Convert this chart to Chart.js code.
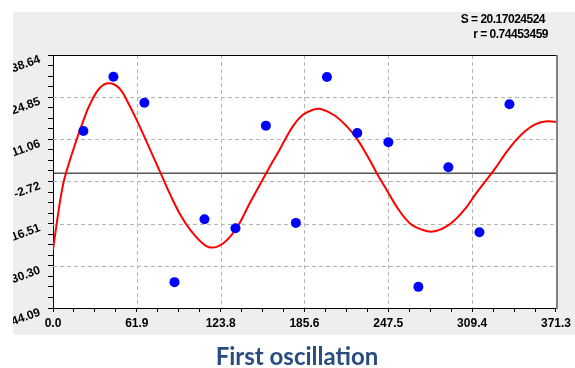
<!DOCTYPE html>
<html>
<head>
<meta charset="utf-8">
<title>First oscillation</title>
<script src="https://cdn.jsdelivr.net/npm/chart.js@4.4.0/dist/chart.umd.min.js"></script>
<style>
html, body { margin: 0; padding: 0; background: #fff; }
#wrap { width: 575px; height: 368px; position: relative; }
</style>
</head>
<body>
<div id="wrap"><canvas id="chart" width="575" height="368"></canvas></div>
<script>
// ==========================
// Data
// ==========================
const obsX = [22.44, 44.59, 67.46, 89.68, 111.83, 134.71, 157.14, 179.29, 202.24, 224.61, 247.55, 269.70, 291.85, 314.80, 336.95];
const obsY = [13.80, 31.55, 23.05, -35.64, -15.05, -17.99, 15.54, -16.26, 31.45, 13.15, 10.11, -37.18, 1.94, -19.30, 22.53];

const fitX = [0, 2.70, 5.12, 7.67, 10.23, 17.32, 22.15, 27.04, 34.35, 41.15, 48.97, 56.28, 62.35, 68.49,
              79.45, 86.98, 94.29, 101.60, 108.91, 116.44, 125.72, 135.44, 145.24, 157.37, 167.16, 176.88,
              184.19, 191.50, 197.57, 207.36, 217.08, 224.39, 231.70, 239.01, 246.32, 253.63, 263.35, 271.90,
              280.45, 290.23, 297.48, 304.79, 312.10, 319.41, 326.72, 334.03, 341.34, 348.65, 355.96, 363.27, 371.30];
const fitY = [-25.09, -16.59, -9.40, -3.19, 1.06, 10.86, 16.84, 22.30, 27.76, 29.39, 27.76, 22.30, 16.84, 10.86,
              0, -7.44, -13.81, -18.71, -22.31, -24.33, -22.90, -17.99, -9.82, 0, 7.59, 15.21,
              19.03, 20.67, 20.99, 19.03, 15.21, 11.19, 5.96, 0, -5.48, -10.94, -16.36, -18.39,
              -19.11, -17.47, -14.95, -11.36, -6.78, -2.54, 1.73, 6.45, 10.54, 13.80, 15.93, 16.91, 16.84];

const xTickLabels = ['0.0', '61.9', '123.8', '185.6', '247.5', '309.4', '371.3'];
const yTickLabels = ['-44.09', '-30.30', '-16.51', '-2.72', '11.06', '24.85', '38.64'];
const statLines = ['S = 20.17024524', 'r = 0.74453459'];
const chartTitle = 'First oscillation';

const MINOR = 4; // minor divisions between labelled ticks

// ==========================
// Helpers
// ==========================
function tickValues(labels) {
    const major = labels.map(parseFloat);
    const out = [];
    for (let i = 0; i < major.length - 1; i++) {
        const step = (major[i + 1] - major[i]) / MINOR;
        for (let k = 0; k < MINOR; k++) out.push({ value: major[i] + step * k });
    }
    out.push({ value: major[major.length - 1] });
    return out;
}

// ==========================
// Panel, grid, borders and texts
// ==========================
const panelPlugin = {
    id: 'panel',
    beforeDraw(chart) {
        const c = chart.ctx, a = chart.chartArea;
        c.save();
        c.fillStyle = '#eeeeee';
        c.fillRect(13, 12, 562, 323);
        c.fillStyle = '#ffffff';
        c.fillRect(a.left, a.top, a.right - a.left, a.bottom - a.top);
        c.restore();
    },
    beforeDatasetsDraw(chart) {
        // dashed grid on the labelled ticks only
        const c = chart.ctx, a = chart.chartArea;
        const xs = chart.scales.x, ys = chart.scales.y;
        c.save();
        c.strokeStyle = '#b4b4b4';
        c.lineWidth = 1;
        c.setLineDash([4, 3]);
        xTickLabels.slice(1, -1).forEach(l => {
            const px = Math.round(xs.getPixelForValue(parseFloat(l))) + 0.5;
            c.beginPath(); c.moveTo(px, a.top); c.lineTo(px, a.bottom); c.stroke();
        });
        yTickLabels.slice(1, -1).forEach(l => {
            const py = Math.round(ys.getPixelForValue(parseFloat(l))) + 0.5;
            c.beginPath(); c.moveTo(a.left, py); c.lineTo(a.right, py); c.stroke();
        });
        c.restore();
    },
    afterDraw(chart) {
        const c = chart.ctx, a = chart.chartArea;
        const y = chart.scales.y;
        c.save();
        // top and right frame
        c.strokeStyle = '#000';
        c.lineWidth = 1;
        c.beginPath();
        c.moveTo(a.left, a.top + 0.5);
        c.lineTo(a.right, a.top + 0.5);
        c.stroke();
        c.strokeStyle = '#808080';
        c.lineWidth = 2;
        c.beginPath();
        c.moveTo(a.right + 1, a.top);
        c.lineTo(a.right + 1, a.bottom + 1);
        c.stroke();

        // rotated y labels, clipped at the panel edge
        c.save();
        c.beginPath();
        c.rect(13, 12, 562, 323);
        c.clip();
        c.fillStyle = '#000';
        c.font = 'bold 12px "Liberation Sans", Arial, sans-serif';
        c.textAlign = 'right';
        c.textBaseline = 'middle';
        yTickLabels.forEach(lbl => {
            const py = y.getPixelForValue(parseFloat(lbl));
            c.save();
            c.translate(a.left - 13, py + 4);
            c.rotate(-20 * Math.PI / 180);
            c.fillText(lbl, 0, 0);
            c.restore();
        });
        c.restore();

        // fit statistics
        c.fillStyle = '#000';
        c.font = 'bold 12px "Liberation Sans", Arial, sans-serif';
        c.letterSpacing = '-0.5px';
        c.textAlign = 'right';
        c.textBaseline = 'middle';
        c.fillText(statLines[0], 545, 20);
        c.fillText(statLines[1], 548, 35);
        c.letterSpacing = '0px';

        // title
        c.fillStyle = '#2a4d80';
        c.font = 'bold 24px Lato, "Open Sans", sans-serif';
        c.textAlign = 'center';
        c.textBaseline = 'alphabetic';
        c.fillText(chartTitle, 297, 365);
        c.restore();
    }
};

// ==========================
// Chart
// ==========================
const ctx = document.getElementById('chart').getContext('2d');
new Chart(ctx, {
    type: 'scatter',
    data: {
        datasets: [
            {
                label: 'observed',
                data: obsX.map((x, i) => ({ x, y: obsY[i] })),
                backgroundColor: '#0000ff',
                borderColor: '#0000ff',
                pointRadius: 5,
                pointBorderWidth: 0,
                order: 0
            },
            {
                label: 'fit',
                data: fitX.map((x, i) => ({ x, y: fitY[i] })),
                showLine: true,
                borderColor: '#ff0000',
                borderWidth: 2,
                pointRadius: 0,
                tension: 0.4,
                fill: false,
                order: 1
            },
            {
                label: 'zero',
                data: [{ x: 0, y: 0 }, { x: 371.3, y: 0 }],
                showLine: true,
                borderColor: '#000000',
                borderWidth: 1,
                pointRadius: 0,
                order: 2
            }
        ]
    },
    options: {
        responsive: false,
        animation: false,
        events: [],
        layout: { padding: { left: 13, top: 55, right: 14, bottom: 38 } },
        plugins: { legend: { display: false }, tooltip: { enabled: false }, title: { display: false } },
        scales: {
            x: {
                type: 'linear',
                min: 0,
                max: 371.3,
                afterBuildTicks: s => { s.ticks = tickValues(xTickLabels); },
                afterFit: s => { s.height = 22; },
                grid: { color: 'rgba(0,0,0,0)', tickColor: '#000', tickLength: 4, lineWidth: 1 },
                border: { color: '#000', width: 1 },
                ticks: {
                    autoSkip: false,
                    maxRotation: 0,
                    minRotation: 0,
                    padding: 4,
                    color: '#000',
                    font: { family: '"Liberation Sans", Arial, sans-serif', size: 12, weight: 'bold' },
                    callback: (v, i) => (i % MINOR === 0 ? xTickLabels[i / MINOR] : '')
                }
            },
            y: {
                type: 'linear',
                min: parseFloat(yTickLabels[0]),
                max: parseFloat(yTickLabels[yTickLabels.length - 1]),
                afterBuildTicks: s => { s.ticks = tickValues(yTickLabels); },
                afterFit: s => { s.width = 40; },
                grid: { color: 'rgba(0,0,0,0)', tickColor: '#000', tickLength: 5, lineWidth: 1 },
                border: { color: '#000', width: 1 },
                ticks: { autoSkip: false, callback: () => '' }
            }
        }
    },
    plugins: [panelPlugin]
});
</script>
</body>
</html>
